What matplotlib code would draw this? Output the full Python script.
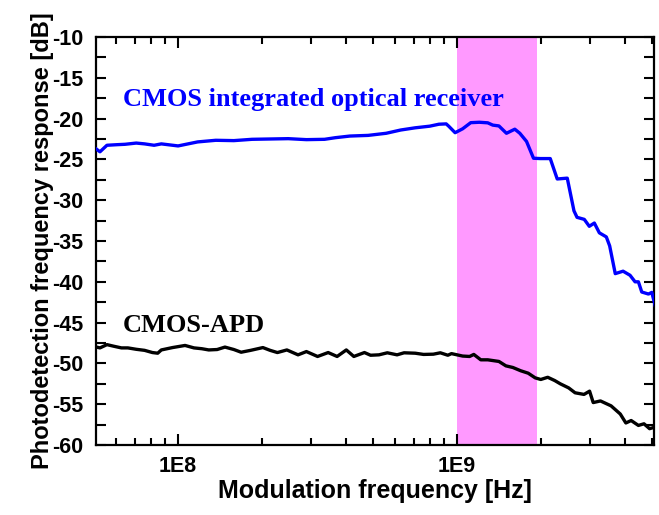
import numpy as np
import matplotlib
matplotlib.use("Agg")
import matplotlib.pyplot as plt
from matplotlib.ticker import FixedLocator, NullFormatter, LogLocator

plt.rcParams["axes.unicode_minus"] = False

# Blue: CMOS integrated optical receiver (log10 frequency, dB)
blue_logf = [7.70, 7.72, 7.745, 7.78, 7.81, 7.85, 7.88, 7.914, 7.94, 8.0, 8.07, 8.135, 8.2,
             8.265, 8.33, 8.395, 8.46, 8.525, 8.564, 8.616, 8.681, 8.746, 8.798, 8.85,
             8.902, 8.935, 8.961, 8.97, 8.993, 9.02, 9.049, 9.08, 9.11, 9.128, 9.15, 9.177,
             9.207, 9.225, 9.249, 9.274, 9.298, 9.334, 9.359, 9.395, 9.419, 9.43, 9.456,
             9.474, 9.492, 9.51, 9.535, 9.547, 9.567, 9.595, 9.62, 9.638, 9.65, 9.662,
             9.686, 9.698, 9.71]
blue_db = [-23.55, -24.07, -23.27, -23.2, -23.15, -23.0, -23.1, -23.27, -23.1, -23.35, -22.86,
           -22.66, -22.7, -22.54, -22.5, -22.46, -22.58, -22.54, -22.34, -22.14, -22.06, -21.8,
           -21.4, -21.13, -20.93, -20.69, -20.65, -20.93, -21.73, -21.25, -20.5, -20.45, -20.52,
           -20.8, -20.9, -21.8, -21.3, -21.8, -22.8, -24.86, -24.9, -24.9, -27.4, -27.3, -31.3,
           -32.1, -32.35, -33.2, -32.8, -34.0, -34.5, -35.6, -39.0, -38.7, -39.2, -40.0, -40.0,
           -41.25, -41.5, -41.3, -42.9]

# Black: CMOS-APD
black_logf = [7.70, 7.72, 7.745, 7.77, 7.797, 7.82, 7.85, 7.88, 7.908, 7.927, 7.94, 7.98, 8.025,
              8.057, 8.085, 8.11, 8.14, 8.168, 8.2, 8.226, 8.26, 8.304, 8.33, 8.356, 8.39, 8.43,
              8.46, 8.5, 8.538, 8.57, 8.603, 8.63, 8.668, 8.69, 8.72, 8.75, 8.785, 8.81, 8.85,
              8.88, 8.915, 8.94, 8.967, 8.98, 9.0, 9.02, 9.045, 9.06, 9.085, 9.11, 9.15, 9.175,
              9.2, 9.228, 9.255, 9.28, 9.3, 9.325, 9.35, 9.37, 9.4, 9.423, 9.455, 9.475, 9.488,
              9.514, 9.552, 9.585, 9.605, 9.624, 9.65, 9.67, 9.69, 9.71]
black_db = [-47.94, -48.1, -47.7, -47.9, -48.1, -48.1, -48.27, -48.4, -48.67, -48.75, -48.35,
            -48.06, -47.8, -48.1, -48.2, -48.35, -48.3, -48.0, -48.3, -48.63, -48.4, -48.06,
            -48.4, -48.67, -48.35, -48.95, -48.55, -49.15, -48.67, -49.15, -48.35, -49.15,
            -48.67, -49.0, -48.95, -48.7, -48.95, -48.7, -48.75, -48.9, -48.87, -48.7, -49.0,
            -48.8, -48.95, -49.1, -49.15, -48.9, -49.56, -49.56, -49.76, -50.3, -50.5, -50.9,
            -51.2, -51.77, -51.97, -51.7, -52.1, -52.5, -53.0, -53.6, -53.8, -53.4, -54.8,
            -54.6, -55.2, -56.2, -57.3, -57.0, -57.6, -57.4, -58.0, -57.8]

band_start = 1.0e9
band_end = 1.93e9

x_min, x_max = 5.08e7, 5.08e9
y_min, y_max = -60, -10
y_major = [-60, -55, -50, -45, -40, -35, -30, -25, -20, -15, -10]
x_major = [1e8, 1e9]
x_labels = ["1E8", "1E9"]

fig = plt.figure(figsize=(6.59, 5.15), dpi=100)
ax = fig.add_axes([0.1457, 0.1359, 0.8467, 0.7923])

ax.axvspan(band_start, band_end, color="#FF99FF", lw=0, zorder=0)
ax.plot(10 ** np.array(blue_logf), blue_db, color="#0000FF", lw=2.4, zorder=3)
ax.plot(10 ** np.array(black_logf), black_db, color="black", lw=2.4, zorder=3)

ax.set_xscale("log")
ax.set_xlim(x_min, x_max)
ax.set_ylim(y_min, y_max)

ax.xaxis.set_major_locator(FixedLocator(x_major))
ax.set_xticklabels(x_labels)
ax.xaxis.set_minor_locator(LogLocator(base=10, subs=np.arange(2, 10)))
ax.xaxis.set_minor_formatter(NullFormatter())
ax.set_yticks(y_major)
ax.set_yticks(np.arange(-57.5, -10, 5), minor=True)

for lab in ax.get_xticklabels() + ax.get_yticklabels():
    lab.set_fontfamily("Liberation Sans")
    lab.set_fontweight("bold")
    lab.set_fontsize(15.5)

ax.tick_params(which="both", direction="in", top=True, right=True, width=1.5, color="black")
ax.tick_params(axis="x", which="major", length=8, pad=8)
ax.tick_params(axis="x", which="minor", length=5)
ax.tick_params(axis="y", which="both", length=7, pad=9)

for s in ax.spines.values():
    s.set_linewidth(1.6)

ax.set_xlabel("Modulation frequency [Hz]", fontfamily="Liberation Sans", fontweight="bold",
              fontsize=18, labelpad=1)
ax.set_ylabel("Photodetection frequency response [dB]", fontfamily="Liberation Sans",
              fontweight="bold", fontsize=17, labelpad=-1)

ax.text(0.048, 0.847, "CMOS integrated optical receiver", transform=ax.transAxes,
        color="#0000FF", fontfamily="Liberation Serif", fontweight="bold", fontsize=19,
        va="center", ha="left")
ax.text(0.048, 0.294, "CMOS-APD", transform=ax.transAxes,
        color="black", fontfamily="Liberation Serif", fontweight="bold", fontsize=19,
        va="center", ha="left")

fig.savefig("out.png", dpi=100)
